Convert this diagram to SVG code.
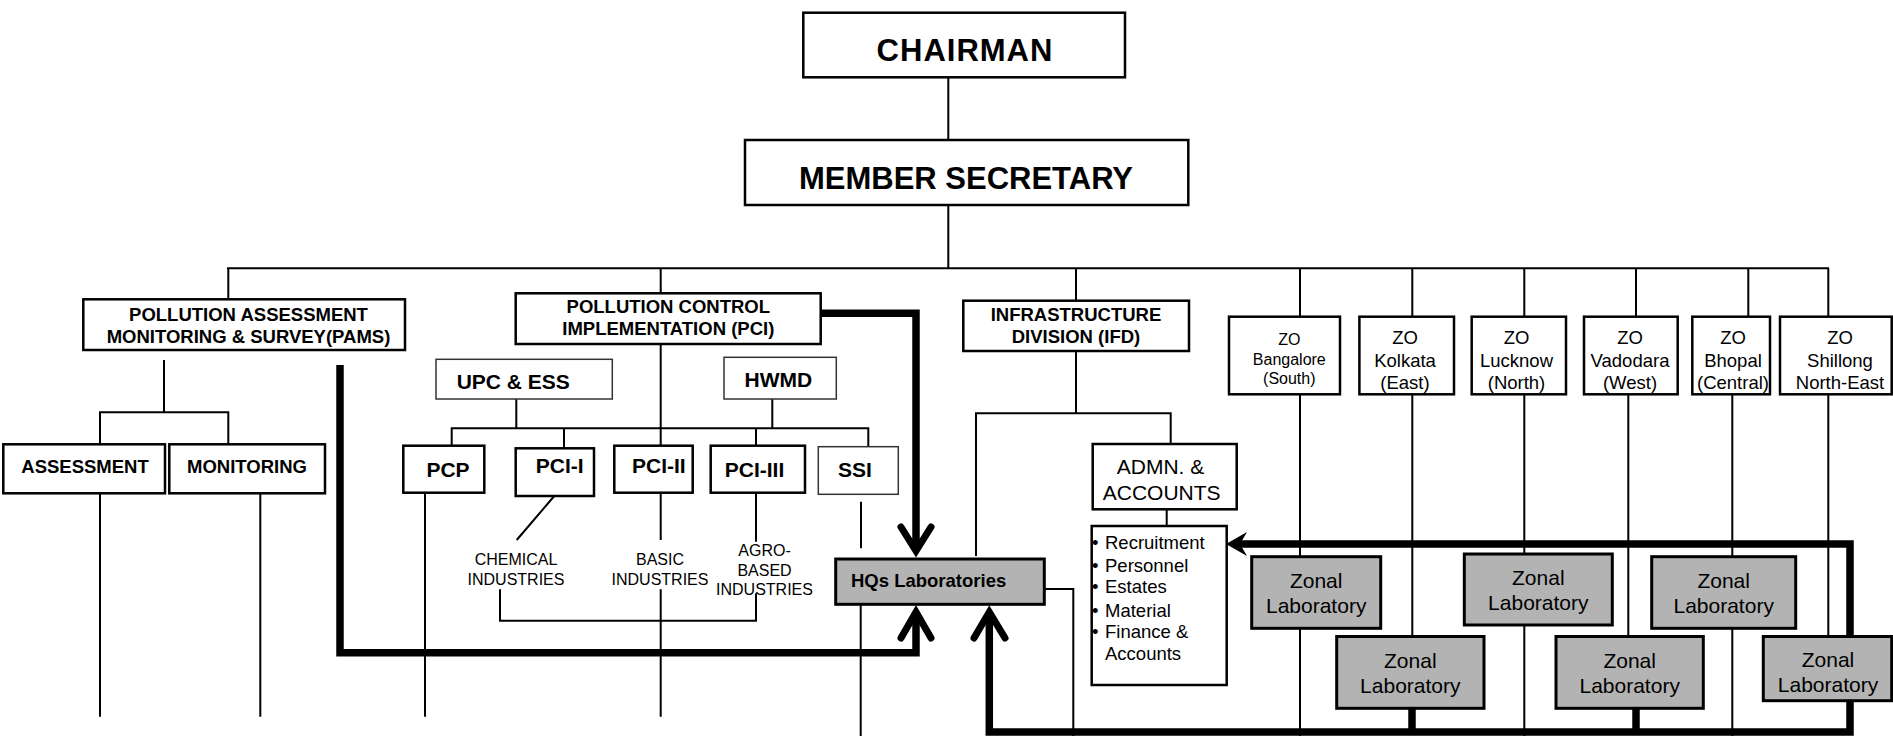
<svg xmlns="http://www.w3.org/2000/svg" width="1893" height="736" viewBox="0 0 1893 736">
<style>
  .box{fill:#fff;stroke:#000;stroke-width:2.5}
  .thin{fill:#fff;stroke:#333;stroke-width:1.5}
  .lab{fill:#b3b3b3;stroke:#000;stroke-width:3}
  .ln{fill:none;stroke:#000;stroke-width:2}
  .thick{fill:none;stroke:#000;stroke-width:7.5;stroke-linejoin:miter}
  .chev{fill:none;stroke:#000;stroke-width:7;stroke-linecap:round;stroke-linejoin:miter}
  text{font-family:"Liberation Sans",Arial,sans-serif;fill:#000}
  .t31{font-size:31px;font-weight:bold}
  .t18b{font-size:18.5px;font-weight:bold}
  .t21b{font-size:21px;font-weight:bold}
  .t16{font-size:16px}
  .t18{font-size:18.5px}
  .t21{font-size:21px}
  .m{text-anchor:middle}
</style>
<g id="connectors">
  <path class="ln" d="M948.3,77 V140 M948.3,205 V268.3 M227,268.3 H1829"/>
  <path class="ln" d="M228.3,268.3 V299.3 M660.7,268.3 V293.3 M1076,268.3 V300.7 M1300,268.3 V316.7 M1412.3,268.3 V316.7 M1524.3,268.3 V316.7 M1636,268.3 V316.7 M1748.3,268.3 V316.7 M1828.3,268.3 V316.7"/>
  <path class="ln" d="M164,360 V412.3 M100,444.3 V412.3 H228.3 V444.3"/>
  <path class="ln" d="M100,493.3 V716.7 M260.3,493.3 V716.7 M425,492.7 V716.7"/>
  <path class="ln" d="M660.7,344 V445.7 M516.3,399 V428.3 M772.3,399 V428.3 M451.7,445.7 V428.3 H868.3 V446.7 M564,428.3 V448.3 M756,428.3 V445.7"/>
  <path class="ln" d="M554.3,496 L516.7,540 M660.7,492.7 V540 M756,492.7 V541.7 M861,501.7 V548.3"/>
  <path class="ln" d="M500,589.3 V620.7 H756 V593.3 M660.7,589.3 V716.7"/>
  <path class="ln" d="M860.7,604 V736 M1044.3,589 H1073.3 V736"/>
  <path class="ln" d="M1076,351 V413.3 M976,556 V413.3 H1170.7 V444 M1166.7,509.3 V526"/>
  <path class="ln" d="M1300,394.3 V736 M1412.3,394.3 V636.7 M1524.3,394.3 V736 M1628.3,394.3 V636.7 M1732.3,394.3 V736 M1828.3,394.3 V636.7"/>
  <path class="thick" d="M820.7,313.3 H916 V549"/>
  <path class="thick" d="M340,365 V652.7 H916 V612"/>
  <path class="thick" d="M989.3,612 V732 H1850 V544 H1240"/>
  <path class="thick" d="M1412,708 V732 M1636,708 V732"/>
  <polyline class="chev" points="901,527 916,551 931,527"/>
  <polyline class="chev" points="901,638 916,612 931,638"/>
  <polyline class="chev" points="974,638 989.3,612 1005,638"/>
  <polygon points="1226,544 1247,532 1240,544 1247,556" fill="#000"/>
</g>
<g id="chairman">
  <rect class="box" x="803.3" y="12.7" width="321.7" height="64.6"/>
  <text class="t31 m" x="965" y="61" letter-spacing="1">CHAIRMAN</text>
</g>
<g id="member-secretary">
  <rect class="box" x="745" y="140" width="443.3" height="65"/>
  <text class="t31 m" x="966" y="189.3">MEMBER SECRETARY</text>
</g>
<g id="pams">
  <rect class="box" x="83.3" y="299.3" width="321.7" height="50.7"/>
  <text class="t18b m" x="248.5" y="320.7">POLLUTION ASSESSMENT</text>
  <text class="t18b m" x="248.5" y="343.3">MONITORING &amp; SURVEY(PAMS)</text>
</g>
<g id="assessment">
  <rect class="box" x="3.3" y="444.3" width="161.7" height="49"/>
  <text class="t18b m" x="85" y="472.7">ASSESSMENT</text>
</g>
<g id="monitoring">
  <rect class="box" x="169.3" y="444.3" width="155.7" height="49"/>
  <text class="t18b m" x="247" y="472.7">MONITORING</text>
</g>
<g id="pci">
  <rect class="box" x="515.7" y="293.3" width="305" height="50.7"/>
  <text class="t18b m" x="668.3" y="313.3">POLLUTION CONTROL</text>
  <text class="t18b m" x="668.3" y="335">IMPLEMENTATION (PCI)</text>
</g>
<g id="upc-ess">
  <rect class="thin" x="436" y="359.3" width="176.3" height="39.7"/>
  <text class="t21b" x="456.7" y="389.3">UPC &amp; ESS</text>
</g>
<g id="hwmd">
  <rect class="thin" x="724" y="357.3" width="112.3" height="41.7"/>
  <text class="t21b m" x="778.3" y="387.3">HWMD</text>
</g>
<g id="pcp">
  <rect class="box" x="403.3" y="445.7" width="81" height="47"/>
  <text class="t21b m" x="448" y="477.3">PCP</text>
</g>
<g id="pci-1">
  <rect class="box" x="515.7" y="448.3" width="78.3" height="47.7"/>
  <text class="t21b m" x="559.7" y="473.3">PCI-I</text>
</g>
<g id="pci-2">
  <rect class="box" x="614.3" y="445.7" width="78.4" height="47"/>
  <text class="t21b m" x="658.8" y="473.3">PCI-II</text>
</g>
<g id="pci-3">
  <rect class="box" x="710.7" y="445.7" width="94.3" height="47"/>
  <text class="t21b m" x="754.5" y="477.3">PCI-III</text>
</g>
<g id="ssi">
  <rect class="thin" x="818.3" y="446.7" width="80" height="47.6"/>
  <text class="t21b m" x="855" y="477.3">SSI</text>
</g>
<g id="chemical">
  <text class="t16 m" x="516" y="565">CHEMICAL</text>
  <text class="t16 m" x="516" y="584.5">INDUSTRIES</text>
</g>
<g id="basic">
  <text class="t16 m" x="660" y="565">BASIC</text>
  <text class="t16 m" x="660" y="585">INDUSTRIES</text>
</g>
<g id="agro">
  <text class="t16 m" x="764.5" y="556">AGRO-</text>
  <text class="t16 m" x="764.5" y="575.7">BASED</text>
  <text class="t16 m" x="764.5" y="595">INDUSTRIES</text>
</g>
<g id="hqs-lab">
  <rect class="lab" x="835.7" y="559" width="208.6" height="45.3"/>
  <text class="t18b" x="851" y="587.3">HQs Laboratories</text>
</g>
<g id="ifd">
  <rect class="box" x="963.3" y="300.7" width="225.7" height="50.3"/>
  <text class="t18b m" x="1076" y="320.7">INFRASTRUCTURE</text>
  <text class="t18b m" x="1076" y="342.7">DIVISION (IFD)</text>
</g>
<g id="admn">
  <rect class="box" x="1092.7" y="444" width="144" height="65.3"/>
  <text class="t21 m" x="1160.5" y="474.3">ADMN. &amp;</text>
  <text class="t21 m" x="1161.7" y="500">ACCOUNTS</text>
</g>
<g id="admn-list">
  <rect class="box" x="1091.7" y="526" width="135" height="159"/>
  <g class="t18">
    <text class="t18" x="1092" y="549.3">•</text><text class="t18" x="1105" y="549.3">Recruitment</text>
    <text class="t18" x="1092" y="571.7">•</text><text class="t18" x="1105" y="571.7">Personnel</text>
    <text class="t18" x="1092" y="593.3">•</text><text class="t18" x="1105" y="593.3">Estates</text>
    <text class="t18" x="1092" y="616.7">•</text><text class="t18" x="1105" y="616.7">Material</text>
    <text class="t18" x="1092" y="638.3">•</text><text class="t18" x="1105" y="638.3">Finance &amp;</text>
    <text class="t18" x="1105" y="660">Accounts</text>
  </g>
</g>
<g id="zo-bangalore">
  <rect class="box" x="1229" y="316.7" width="111" height="77.6"/>
  <text class="t16 m" x="1289.3" y="345">ZO</text>
  <text class="t16 m" x="1289.3" y="365">Bangalore</text>
  <text class="t16 m" x="1289.3" y="384">(South)</text>
</g>
<g id="zo-kolkata">
  <rect class="box" x="1359.4" y="316.7" width="94.6" height="77.6"/>
  <text class="t18 m" x="1405" y="344">ZO</text>
  <text class="t18 m" x="1405" y="367.3">Kolkata</text>
  <text class="t18 m" x="1405" y="389">(East)</text>
</g>
<g id="zo-lucknow">
  <rect class="box" x="1471.7" y="316.7" width="94.3" height="77.6"/>
  <text class="t18 m" x="1516.5" y="344">ZO</text>
  <text class="t18 m" x="1516.5" y="367.3">Lucknow</text>
  <text class="t18 m" x="1516.5" y="389">(North)</text>
</g>
<g id="zo-vadodara">
  <rect class="box" x="1584" y="316.7" width="93.7" height="77.6"/>
  <text class="t18 m" x="1630" y="344">ZO</text>
  <text class="t18 m" x="1630" y="367.3">Vadodara</text>
  <text class="t18 m" x="1630" y="389">(West)</text>
</g>
<g id="zo-bhopal">
  <rect class="box" x="1692.3" y="316.7" width="77.7" height="77.6"/>
  <text class="t18 m" x="1733" y="344">ZO</text>
  <text class="t18 m" x="1733" y="367.3">Bhopal</text>
  <text class="t18 m" x="1733" y="389">(Central)</text>
</g>
<g id="zo-shillong">
  <rect class="box" x="1780" y="316.7" width="111.7" height="77.6"/>
  <text class="t18 m" x="1840" y="344">ZO</text>
  <text class="t18 m" x="1840" y="367.3">Shillong</text>
  <text class="t18 m" x="1840" y="389">North-East</text>
</g>
<g id="lab-bangalore">
  <rect class="lab" x="1251.7" y="556.7" width="129" height="71.6"/>
  <text class="t21 m" x="1316.2" y="588.3">Zonal</text>
  <text class="t21 m" x="1316.2" y="613.3">Laboratory</text>
</g>
<g id="lab-kolkata">
  <rect class="lab" x="1336.7" y="636.5" width="147.3" height="71.8"/>
  <text class="t21 m" x="1410.3" y="668.3">Zonal</text>
  <text class="t21 m" x="1410.3" y="693.3">Laboratory</text>
</g>
<g id="lab-lucknow">
  <rect class="lab" x="1464.3" y="554" width="148" height="71"/>
  <text class="t21 m" x="1538.3" y="585">Zonal</text>
  <text class="t21 m" x="1538.3" y="610">Laboratory</text>
</g>
<g id="lab-vadodara">
  <rect class="lab" x="1556" y="636.5" width="147.3" height="71.8"/>
  <text class="t21 m" x="1629.7" y="668.3">Zonal</text>
  <text class="t21 m" x="1629.7" y="693.3">Laboratory</text>
</g>
<g id="lab-bhopal">
  <rect class="lab" x="1651.7" y="556.7" width="144" height="71.6"/>
  <text class="t21 m" x="1723.7" y="588.3">Zonal</text>
  <text class="t21 m" x="1723.7" y="613.3">Laboratory</text>
</g>
<g id="lab-shillong">
  <rect class="lab" x="1763.3" y="636.5" width="128.4" height="64.2"/>
  <text class="t21 m" x="1828" y="666.7">Zonal</text>
  <text class="t21 m" x="1828" y="692">Laboratory</text>
</g>
</svg>
